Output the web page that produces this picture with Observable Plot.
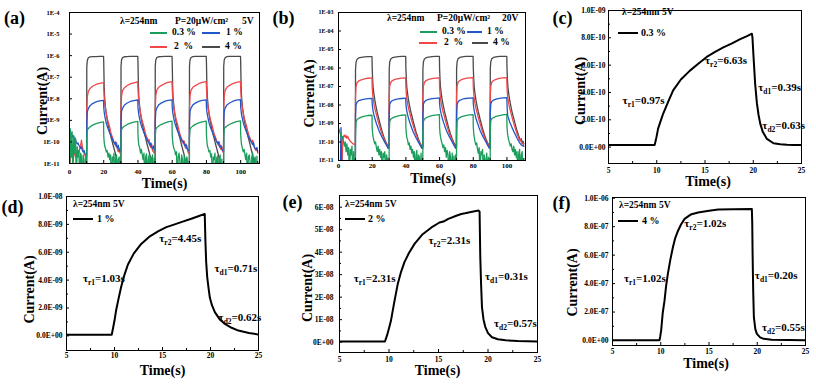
<!DOCTYPE html>
<html><head><meta charset="utf-8">
<script src="https://cdn.jsdelivr.net/npm/d3@7"></script>
<script src="https://cdn.jsdelivr.net/npm/@observablehq/plot@0.6"></script>
<style>
body{margin:0;background:#fff;}
#fig{position:relative;width:816px;height:385px;overflow:hidden;font-family:"Liberation Serif","Times New Roman","DejaVu Serif",serif;font-weight:bold;color:#000;}
#fig svg{position:absolute;font-family:"Liberation Serif","Times New Roman","DejaVu Serif",serif !important;}
#fig svg text{font-family:"Liberation Serif","Times New Roman","DejaVu Serif",serif;}
.lab{position:absolute;white-space:pre;line-height:1;transform:translateY(-50%);}
.ln{position:absolute;}
</style></head><body><div id="fig"></div>
<script>
const tAB = [0,0.5,1,1.5,2,2.5,3,3.5,4,4.5,5,5.5,6,6.5,7,7.5,8,8.5,9,9.5,
10,10.1,10.4,11,12,13.5,15.5,17.5,19.9,20,20.25,20.5,21,21.5,22,22.5,23,23.5,24,24.5,25,25.5,26,26.5,27,27.5,28,28.5,29,29.5,
30,30.1,30.4,31,32,33.5,35.5,37.5,39.9,40,40.25,40.5,41,41.5,42,42.5,43,43.5,44,44.5,45,45.5,46,46.5,47,47.5,48,48.5,49,49.5,
50,50.1,50.4,51,52,53.5,55.5,57.5,59.9,60,60.25,60.5,61,61.5,62,62.5,63,63.5,64,64.5,65,65.5,66,66.5,67,67.5,68,68.5,69,69.5,
70,70.1,70.4,71,72,73.5,75.5,77.5,79.9,80,80.25,80.5,81,81.5,82,82.5,83,83.5,84,84.5,85,85.5,86,86.5,87,87.5,88,88.5,89,89.5,
90,90.1,90.4,91,92,93.5,95.5,97.5,99.9,100,100.25,100.5,101,101.5,102,102.5,103,103.5,104,104.5,105,105.5,106,106.5,107,107.5,108,108.5,109,109.5,
110];

const grayA = [1e-12,1e-12,1e-12,1e-12,1e-12,1e-12,1e-12,1e-12,1e-12,1e-12,1e-12,1e-12,1e-12,1e-12,1e-12,1e-12,1e-12,1e-12,1e-12,1e-12,
1e-12,3e-7,6e-7,8e-7,8.8e-7,9e-7,9.1e-7,9.2e-7,9.2e-7, 5e-7,4e-8,1.2e-8,4e-9,2e-9,1.1e-9,7e-10,4.5e-10,3e-10,2e-10,1.4e-10,1e-10,7e-11,5e-11,3.5e-11,2.5e-11,1.5e-11,1e-12,1e-12,1e-12,1e-12,
1e-12,3.2e-7,6.2e-7,8.1e-7,8.9e-7,9.1e-7,9.2e-7,9.2e-7,9.3e-7, 5e-7,4.2e-8,1.2e-8,4.2e-9,2e-9,1.1e-9,7e-10,4.6e-10,3e-10,2.1e-10,1.5e-10,1e-10,7e-11,5e-11,3.5e-11,2.5e-11,1.5e-11,1e-12,1e-12,1e-12,1e-12,
1e-12,3.2e-7,6.2e-7,8.1e-7,8.9e-7,9.1e-7,9.2e-7,9.3e-7,9.3e-7, 5e-7,4.2e-8,1.2e-8,4.2e-9,2e-9,1.1e-9,7e-10,4.6e-10,3e-10,2.1e-10,1.5e-10,1e-10,7e-11,5e-11,3.5e-11,2.5e-11,1.5e-11,1e-12,1e-12,1e-12,1e-12,
1e-12,3.3e-7,6.3e-7,8.2e-7,9e-7,9.2e-7,9.3e-7,9.3e-7,9.3e-7, 5e-7,4.3e-8,1.3e-8,4.3e-9,2.1e-9,1.1e-9,7e-10,4.6e-10,3.1e-10,2.1e-10,1.5e-10,1e-10,7e-11,5e-11,3.5e-11,2.5e-11,1.5e-11,1e-12,1e-12,1e-12,1e-12,
1e-12,3.3e-7,6.3e-7,8.2e-7,9e-7,9.2e-7,9.3e-7,9.3e-7,9.3e-7, 5e-7,4.3e-8,1.3e-8,4.3e-9,2.1e-9,1.1e-9,7.2e-10,4.7e-10,3.1e-10,2.2e-10,1.5e-10,1.1e-10,7.5e-11,5e-11,3.5e-11,2.5e-11,1.5e-11,1e-12,1e-12,1e-12,1e-12,
1e-12];
const redA = [1e-12,2e-11,3e-11,2e-11,3e-11,2.5e-11,3e-11,2e-11,3e-11,2.5e-11,4e-11,3e-11,5e-11,7e-11,1.2e-10,6e-11,4e-11,3e-11,2.5e-11,2e-11,
2e-11,3e-9,1.2e-8,2.2e-8,3e-8,3.8e-8,4.6e-8,5.2e-8,5.6e-8, 3e-8,1.2e-8,7e-9,3.5e-9,2e-9,1.3e-9,9e-10,6.5e-10,4.8e-10,3e-10,2.2e-10,1.7e-10,1.3e-10,1e-10,8e-11,6.5e-11,9e-11,4.5e-11,3.5e-11,5e-11,3e-11,
3e-11,3.5e-9,1.3e-8,2.4e-8,3.2e-8,4e-8,4.9e-8,5.5e-8,6e-8, 3.2e-8,1.3e-8,7.5e-9,3.7e-9,2.1e-9,1.35e-9,9.5e-10,6.8e-10,5e-10,3.2e-10,2.3e-10,1.8e-10,1.4e-10,1.05e-10,1.3e-10,7e-11,5.5e-11,8e-11,4e-11,3.5e-11,3e-11,
3e-11,3.6e-9,1.35e-8,2.5e-8,3.3e-8,4.1e-8,5e-8,5.7e-8,6.2e-8, 3.3e-8,1.3e-8,7.5e-9,3.8e-9,2.1e-9,1.4e-9,9.5e-10,7e-10,5e-10,3.3e-10,2.4e-10,1.8e-10,1.4e-10,1.1e-10,8.5e-11,1.1e-10,6e-11,5e-11,7e-11,4e-11,3e-11,
3e-11,3.6e-9,1.35e-8,2.5e-8,3.3e-8,4.1e-8,5e-8,5.7e-8,6.2e-8, 3.3e-8,1.3e-8,7.6e-9,3.8e-9,2.2e-9,1.4e-9,9.8e-10,7e-10,5.1e-10,3.3e-10,2.4e-10,1.9e-10,1.5e-10,1.1e-10,9e-11,7e-11,1e-10,5.5e-11,4.5e-11,6e-11,3.5e-11,
3.5e-11,3.7e-9,1.4e-8,2.5e-8,3.4e-8,4.2e-8,5.1e-8,5.8e-8,6.2e-8, 3.3e-8,1.3e-8,7.6e-9,3.8e-9,2.2e-9,1.4e-9,1e-9,7.1e-10,5.2e-10,3.4e-10,2.5e-10,1.9e-10,1.5e-10,1.2e-10,9e-11,1.2e-10,7e-11,5.5e-11,4.5e-11,4e-11,5e-11,
3e-11];
const blueA = [3.5e-10,3e-10,2.5e-10,2.2e-10,1.6e-10,1.8e-10,1.2e-10,1.3e-10,1e-10,8e-11,9e-11,7e-11,6e-11,5e-11,6e-11,4e-11,3.5e-11,4e-11,3e-11,2.5e-11,
2.5e-11,8e-10,2.5e-9,3.5e-9,4.8e-9,6e-9,7.2e-9,8e-9,8.5e-9, 4e-9,2.5e-9,1.8e-9,1.1e-9,7.5e-10,5.5e-10,4.2e-10,3.3e-10,2.6e-10,2.1e-10,1.7e-10,1.4e-10,1.15e-10,9.5e-11,8e-11,1e-10,6e-11,5.5e-11,7e-11,4.2e-11,3.8e-11,
3.8e-11,8.5e-10,2.6e-9,3.6e-9,5e-9,6.2e-9,7.5e-9,8.3e-9,8.8e-9, 4.1e-9,2.6e-9,1.85e-9,1.15e-9,7.7e-10,5.6e-10,4.3e-10,3.4e-10,2.7e-10,2.2e-10,1.75e-10,1.45e-10,1.2e-10,1e-10,8.5e-11,7e-11,9e-11,5.5e-11,5e-11,6.5e-11,4e-11,
4e-11,8.5e-10,2.6e-9,3.7e-9,5.1e-9,6.3e-9,7.6e-9,8.4e-9,9e-9, 4.2e-9,2.6e-9,1.9e-9,1.15e-9,7.8e-10,5.7e-10,4.4e-10,3.4e-10,2.7e-10,2.2e-10,1.8e-10,1.45e-10,1.2e-10,1e-10,1.1e-10,7.5e-11,6.5e-11,8e-11,5e-11,4.5e-11,4e-11,
4e-11,8.5e-10,2.6e-9,3.7e-9,5.1e-9,6.3e-9,7.6e-9,8.5e-9,9e-9, 4.2e-9,2.6e-9,1.9e-9,1.2e-9,7.8e-10,5.7e-10,4.4e-10,3.5e-10,2.8e-10,2.2e-10,1.8e-10,1.5e-10,1.2e-10,1e-10,8.5e-11,1e-10,6.5e-11,5.5e-11,7e-11,4.5e-11,4e-11,
4e-11,9e-10,2.7e-9,3.8e-9,5.2e-9,6.4e-9,7.7e-9,8.6e-9,9.2e-9, 4.3e-9,2.7e-9,1.9e-9,1.2e-9,8e-10,5.8e-10,4.5e-10,3.5e-10,2.8e-10,2.3e-10,1.8e-10,1.5e-10,1.25e-10,1.05e-10,9e-11,7.5e-11,9.5e-11,6e-11,5e-11,4.5e-11,5.5e-11,
3.5e-11];
const greenA = [1e-12,4e-10,2e-11,3e-10,1e-12,2e-10,3e-11,1.5e-10,1e-12,6e-11,2e-11,4e-11,1e-12,3e-11,2e-11,1e-12,2.5e-11,1.5e-11,1e-12,2e-11,
1e-12,1.5e-10,3.5e-10,4.2e-10,5e-10,6e-10,7e-10,7.8e-10,8.5e-10, 2e-10,1e-10,7e-11,5e-11,3.5e-11,4e-11,2e-11,3e-11,1.5e-11,2.5e-11,1e-12,2e-11,1.2e-11,3e-11,1e-12,1.8e-11,2.5e-11,1e-12,1.5e-11,2e-11,1e-12,
1e-12,1.6e-10,3.8e-10,4.5e-10,5.3e-10,6.3e-10,7.4e-10,8.3e-10,9e-10, 2.2e-10,1.1e-10,7e-11,5.5e-11,3e-11,4.5e-11,2.5e-11,1.5e-11,3e-11,1e-12,2e-11,2.8e-11,1e-12,1.5e-11,2.5e-11,1e-12,2e-11,1.2e-11,2.5e-11,1e-12,1.8e-11,
1e-12,1.7e-10,3.9e-10,4.6e-10,5.4e-10,6.4e-10,7.5e-10,8.5e-10,9.2e-10, 2.2e-10,1.1e-10,7.5e-11,5e-11,4e-11,2.5e-11,3.5e-11,1e-12,2e-11,3e-11,1.2e-11,1e-12,2.5e-11,1.5e-11,1e-12,2.2e-11,1.5e-11,1e-12,2e-11,1.3e-11,1e-12,
1e-12,1.7e-10,3.9e-10,4.6e-10,5.4e-10,6.5e-10,7.6e-10,8.6e-10,9.3e-10, 2.3e-10,1.1e-10,7e-11,5e-11,3.5e-11,4e-11,2e-11,2.8e-11,1e-12,2e-11,1.5e-11,3e-11,1e-12,1.8e-11,2.2e-11,1e-12,1.5e-11,2.5e-11,1e-12,1.6e-11,1e-12,
1e-12,1.8e-10,4e-10,4.7e-10,5.5e-10,6.6e-10,7.7e-10,8.8e-10,9.5e-10, 2.3e-10,1.2e-10,7.5e-11,5e-11,3.5e-11,4.5e-11,2.5e-11,1.5e-11,3e-11,1e-12,2e-11,2.5e-11,1.2e-11,1e-12,2e-11,3e-11,1e-12,1.5e-11,2e-11,1e-12,2.2e-11,
1e-12];

const grayB = [1e-12,1e-12,1e-12,1e-12,1e-12,1e-12,1e-12,1e-12,1e-12,1e-12,1e-12,1e-12,1e-12,1e-12,1e-12,1e-12,1e-12,1e-12,1e-12,1e-12,
1e-12,8e-7,2e-6,3e-6,3.5e-6,3.8e-6,4e-6,4.1e-6,4.1e-6, 1e-6,2.5e-7,1e-7,4e-8,2e-8,1.1e-8,6.5e-9,4e-9,2.6e-9,1.7e-9,1.1e-9,7.5e-10,5e-10,3.5e-10,2.5e-10,1.8e-10,1.35e-10,1.05e-10,8.5e-11,7e-11,6e-11,
6e-11,8.5e-7,2.1e-6,3.1e-6,3.6e-6,3.9e-6,4.1e-6,4.2e-6,4.2e-6, 1e-6,2.6e-7,1e-7,4.2e-8,2e-8,1.1e-8,6.6e-9,4.1e-9,2.7e-9,1.75e-9,1.15e-9,7.8e-10,5.2e-10,3.6e-10,2.6e-10,1.9e-10,1.4e-10,1.1e-10,8.5e-11,7e-11,6e-11,
6e-11,8.5e-7,2.1e-6,3.1e-6,3.6e-6,3.9e-6,4.1e-6,4.2e-6,4.2e-6, 1e-6,2.6e-7,1e-7,4.2e-8,2e-8,1.15e-8,6.8e-9,4.2e-9,2.7e-9,1.8e-9,1.2e-9,8e-10,5.4e-10,3.8e-10,2.7e-10,2e-10,1.5e-10,1.15e-10,9e-11,7.5e-11,6e-11,
6e-11,9e-7,2.2e-6,3.2e-6,3.7e-6,4e-6,4.2e-6,4.3e-6,4.3e-6, 1.1e-6,2.7e-7,1.05e-7,4.3e-8,2.1e-8,1.15e-8,6.8e-9,4.2e-9,2.8e-9,1.8e-9,1.2e-9,8e-10,5.4e-10,3.8e-10,2.7e-10,2e-10,1.5e-10,1.15e-10,9e-11,7.5e-11,6.5e-11,
6.5e-11,9e-7,2.2e-6,3.2e-6,3.7e-6,4e-6,4.2e-6,4.3e-6,4.3e-6, 1.1e-6,2.7e-7,1.05e-7,4.3e-8,2.1e-8,1.2e-8,7e-9,4.3e-9,2.8e-9,1.9e-9,1.25e-9,8.5e-10,5.8e-10,4e-10,2.9e-10,2.1e-10,1.6e-10,1.2e-10,1.5e-10,9e-11,1.1e-10,
8e-11];
const redB = [1e-12,1e-12,1e-12,1e-12,1e-12,1.5e-10,2e-10,2.4e-10,1.8e-10,2.2e-10,1.6e-10,2e-10,1.5e-10,1.3e-10,1.1e-10,1e-10,9e-11,8e-11,8e-11,7e-11,
7e-11,3e-8,1e-7,1.6e-7,2e-7,2.3e-7,2.6e-7,2.8e-7,2.9e-7, 1e-7,4e-8,2.5e-8,1.2e-8,7e-9,4.5e-9,3e-9,2e-9,1.35e-9,9.5e-10,6.5e-10,4.6e-10,3.4e-10,2.5e-10,1.9e-10,1.45e-10,1.15e-10,9e-11,7.5e-11,6e-11,5e-11,
5e-11,3.2e-8,1.05e-7,1.65e-7,2.1e-7,2.4e-7,2.7e-7,2.85e-7,2.9e-7, 1e-7,4e-8,2.5e-8,1.2e-8,7e-9,4.6e-9,3.1e-9,2.1e-9,1.4e-9,1e-9,6.8e-10,4.8e-10,3.5e-10,2.6e-10,2e-10,1.5e-10,1.2e-10,9.5e-11,7.5e-11,6e-11,5e-11,
5e-11,3.2e-8,1.05e-7,1.65e-7,2.1e-7,2.4e-7,2.7e-7,2.85e-7,2.9e-7, 1e-7,4e-8,2.5e-8,1.2e-8,7e-9,4.6e-9,3.1e-9,2.1e-9,1.4e-9,1e-9,6.8e-10,4.8e-10,3.5e-10,2.6e-10,2e-10,1.5e-10,1.2e-10,9.5e-11,7.5e-11,6e-11,5e-11,
5e-11,3.3e-8,1.1e-7,1.7e-7,2.1e-7,2.45e-7,2.75e-7,2.9e-7,3e-7, 1.05e-7,4.2e-8,2.6e-8,1.25e-8,7.2e-9,4.7e-9,3.2e-9,2.1e-9,1.45e-9,1e-9,7e-10,5e-10,3.6e-10,2.7e-10,2e-10,1.5e-10,1.2e-10,9.5e-11,8e-11,6.5e-11,5e-11,
5e-11,3.3e-8,1.1e-7,1.7e-7,2.1e-7,2.45e-7,2.75e-7,2.9e-7,3e-7, 1.05e-7,4.2e-8,2.6e-8,1.25e-8,7.2e-9,4.8e-9,3.3e-9,2.2e-9,1.5e-9,1.05e-9,7.2e-10,5.2e-10,3.8e-10,2.8e-10,2.1e-10,1.6e-10,1.25e-10,1.4e-10,1e-10,8e-11,9e-11,
6e-11];
const blueB = [1e-12,1e-12,1e-12,6e-10,1e-12,1e-12,1e-12,1e-12,1e-12,1e-12,1e-12,1e-12,1e-12,1e-12,1e-12,1e-12,1e-12,1e-12,1e-12,1e-12,
1e-12,3e-9,1e-8,1.4e-8,1.7e-8,1.9e-8,2.1e-8,2.2e-8,2.3e-8, 1.2e-8,7e-9,5e-9,3e-9,2e-9,1.4e-9,1e-9,7.5e-10,5.5e-10,4.2e-10,3.3e-10,2.6e-10,2.1e-10,1.7e-10,1.4e-10,1.15e-10,9.5e-11,8e-11,6.5e-11,5.5e-11,4.5e-11,
4.5e-11,3.2e-9,1.05e-8,1.45e-8,1.75e-8,1.95e-8,2.15e-8,2.25e-8,2.35e-8, 1.2e-8,7e-9,5e-9,3e-9,2e-9,1.4e-9,1e-9,7.5e-10,5.5e-10,4.2e-10,3.3e-10,2.6e-10,2.1e-10,1.7e-10,1.4e-10,1.15e-10,9.5e-11,8e-11,6.5e-11,5.5e-11,4.5e-11,
4.5e-11,3.3e-9,1.1e-8,1.5e-8,1.8e-8,2e-8,2.2e-8,2.3e-8,2.4e-8, 1.25e-8,7.2e-9,5.1e-9,3.1e-9,2.05e-9,1.45e-9,1.05e-9,7.8e-10,5.7e-10,4.3e-10,3.4e-10,2.7e-10,2.2e-10,1.75e-10,1.45e-10,1.2e-10,1e-10,8.2e-11,6.8e-11,5.6e-11,4.6e-11,
4.6e-11,3.4e-9,1.1e-8,1.5e-8,1.8e-8,2.05e-8,2.25e-8,2.35e-8,2.45e-8, 1.25e-8,7.2e-9,5.1e-9,3.1e-9,2.05e-9,1.45e-9,1.05e-9,7.8e-10,5.7e-10,4.3e-10,3.4e-10,2.7e-10,2.2e-10,1.75e-10,1.45e-10,1.2e-10,1e-10,8.2e-11,6.8e-11,5.6e-11,4.6e-11,
4.6e-11,3.5e-9,1.15e-8,1.55e-8,1.85e-8,2.1e-8,2.3e-8,2.4e-8,2.5e-8, 1.3e-8,4e-9,2.5e-9,1.8e-9,1.3e-9,1e-9,8e-10,6e-10,4.8e-10,3.8e-10,3e-10,2.5e-10,2e-10,1.6e-10,1.3e-10,1.1e-10,9e-11,8e-11,7e-11,6.5e-11,6e-11,
6e-11];
const greenB = [6e-10,4e-10,3e-10,2e-10,1.5e-10,2e-10,1e-10,6e-11,1e-10,3e-11,8e-11,2e-11,5e-11,1e-12,4e-11,2e-11,6e-11,1e-12,3e-11,1e-12,
1e-12,3e-10,1.2e-9,1.6e-9,1.9e-9,2.2e-9,2.5e-9,2.7e-9,2.8e-9, 6e-10,3e-10,2e-10,1.2e-10,8e-11,1e-10,5e-11,3e-11,6e-11,2e-11,4e-11,1.5e-11,3e-11,1e-12,2.5e-11,1.5e-11,3e-11,1e-12,2e-11,1.2e-11,1e-12,
1e-12,3.2e-10,1.3e-9,1.7e-9,2e-9,2.3e-9,2.6e-9,2.8e-9,2.9e-9, 6e-10,3e-10,1.8e-10,1.3e-10,7e-11,9e-11,4e-11,6e-11,2.5e-11,4e-11,1.5e-11,3e-11,1e-12,2e-11,3.5e-11,1e-12,2e-11,1.5e-11,1e-12,2.5e-11,1e-12,
1e-12,3.3e-10,1.3e-9,1.7e-9,2.05e-9,2.35e-9,2.65e-9,2.85e-9,3e-9, 6.5e-10,3e-10,2e-10,1.2e-10,8e-11,5e-11,7e-11,3e-11,5e-11,1.5e-11,3.5e-11,2e-11,1e-12,3e-11,1.5e-11,1e-12,2.5e-11,1e-12,1.8e-11,1e-12,2e-11,
1e-12,3.3e-10,1.35e-9,1.75e-9,2.1e-9,2.4e-9,2.7e-9,2.9e-9,3e-9, 6.5e-10,3.2e-10,2e-10,1.1e-10,7e-11,9e-11,4e-11,2.5e-11,5e-11,1e-12,3e-11,2e-11,4e-11,1e-12,2e-11,1.2e-11,1e-12,2.5e-11,1e-12,1.5e-11,1e-12,
1e-12,3.4e-10,1.4e-9,1.8e-9,2.1e-9,2.4e-9,2.7e-9,2.9e-9,3.1e-9, 7e-10,3.5e-10,2.2e-10,1.3e-10,9e-11,6e-11,8e-11,4e-11,3e-11,6e-11,2e-11,4e-11,1.5e-11,3e-11,1e-12,2.5e-11,4e-11,1e-12,2e-11,3e-11,1e-12,
1e-12];

const tC = [5,9.78,9.85,9.97,10.14,10.4,10.66,11.2,11.7,12.5,13.44,14.3,15.18,16.0,16.9,17.8,18.65,19.3,19.86,19.92,20.03,20.2,20.38,20.55,20.73,21.0,21.42,22.1,22.8,23.5,24.2,25];
const vC = [1.5e-11,1.5e-11,3.5e-11,7.3e-11,1.35e-10,1.9e-10,2.44e-10,3.35e-10,4.15e-10,4.95e-10,5.6e-10,6.1e-10,6.6e-10,6.95e-10,7.3e-10,7.6e-10,7.9e-10,8.1e-10,8.3e-10,8.0e-10,6.6e-10,4.6e-10,3.2e-10,2.35e-10,1.7e-10,1.1e-10,6e-11,2.8e-11,2.1e-11,1.7e-11,1.6e-11,1.5e-11];
const tD = [5,9.71,9.8,10.0,10.16,10.4,10.69,11.0,11.39,12.0,12.78,13.6,14.53,15.4,16.27,17.1,18.0,18.8,19.4,19.47,19.55,19.66,19.8,19.93,20.15,20.45,21.0,21.5,22.2,22.9,24.0,25];
const vD = [8e-11,8e-11,3.8e-10,1.1e-9,1.8e-9,2.6e-9,3.5e-9,4.3e-9,5.1e-9,5.9e-9,6.6e-9,7.1e-9,7.5e-9,7.8e-9,8.0e-9,8.2e-9,8.4e-9,8.6e-9,8.75e-9,6.8e-9,5.3e-9,4.2e-9,3.4e-9,2.75e-9,2.2e-9,1.7e-9,1.15e-9,8.6e-10,5.8e-10,3.8e-10,2e-10,1e-10];
const tE = [5,9.59,9.8,10.0,10.2,10.5,10.89,11.2,11.56,12.0,12.58,13.4,14.29,15.1,15.5,15.99,16.8,17.3,17.68,18.4,19.05,19.15,19.22,19.3,19.39,19.55,19.73,20.0,20.4,21.0,21.77,23.0,25];
const vE = [3e-10,3e-10,3e-9,6.2e-9,9.6e-9,1.7e-8,2.6e-8,3.1e-8,3.56e-8,3.95e-8,4.37e-8,4.8e-8,5.1e-8,5.32e-8,5.36e-8,5.48e-8,5.62e-8,5.7e-8,5.73e-8,5.8e-8,5.85e-8,5.8e-8,3.8e-8,2.6e-8,1.56e-8,1e-8,6.7e-9,4e-9,2.2e-9,1.3e-9,8e-10,5e-10,3e-10];
const tF = [5,9.87,9.95,10.04,10.2,10.39,10.55,10.74,11.0,11.26,11.5,11.78,12.1,12.47,13.1,13.87,15.0,15.96,17.5,19.44,19.48,19.52,19.58,19.65,19.8,19.96,20.3,20.66,21.5,25];
const vF = [2e-9,2e-9,3e-8,7e-8,1.9e-7,2.8e-7,3.8e-7,4.7e-7,5.7e-7,6.55e-7,7.2e-7,7.7e-7,8.15e-7,8.55e-7,8.85e-7,9.0e-7,9.12e-7,9.2e-7,9.23e-7,9.25e-7,8.3e-7,6.0e-7,3.5e-7,1.64e-7,8e-8,4.7e-8,2.2e-8,1.2e-8,5e-9,2e-9];

const xTicksAB = [0,20,40,60,80,100], xMinorAB = [10,30,50,70,90,110];
const xLabelsAB = ["0","20","40","60","80","100"];
const xTicksCF = [5,10,15,20,25], xMinorCF = [7.5,12.5,17.5,22.5];
const xLabelsCF = ["5","10","15","20","25"];
const yTicksA = [1e-11,1e-10,1e-9,1e-8,1e-7,1e-6,1e-5,1e-4];
const yLabelsA = ["1E-11","1E-10","1E-9","1E-8","1E-7","1E-6","1E-5","1E-4"];
const yTicksB = [1e-11,1e-10,1e-9,1e-8,1e-7,1e-6,1e-5,1e-4,1e-3];
const yLabelsB = ["1E-11","1E-10","1E-09","1E-08","1E-07","1E-06","1E-05","1E-04","1E-03"];
const yTicksC = [0,2e-10,4e-10,6e-10,8e-10,1e-9], yMinorC = [1e-10,3e-10,5e-10,7e-10,9e-10];
const yLabelsC = ["0.0E+00","2.0E-10","4.0E-10","6.0E-10","8.0E-10","1.0E-09"];
const yTicksD = [0,2e-9,4e-9,6e-9,8e-9,1e-8], yMinorD = [1e-9,3e-9,5e-9,7e-9,9e-9];
const yLabelsD = ["0.0E+00","2.0E-09","4.0E-09","6.0E-09","8.0E-09","1.0E-08"];
const yTicksE = [0,1e-8,2e-8,3e-8,4e-8,5e-8,6e-8], yMinorE = [5e-9,1.5e-8,2.5e-8,3.5e-8,4.5e-8,5.5e-8];
const yLabelsE = ["0E+00","1E-08","2E-08","3E-08","4E-08","5E-08","6E-08"];
const yTicksF = [0,2e-7,4e-7,6e-7,8e-7,1e-6], yMinorF = [1e-7,3e-7,5e-7,7e-7,9e-7];
const yLabelsF = ["0.0E+00","2.0E-07","4.0E-07","6.0E-07","8.0E-07","1.0E-06"];

const seriesNames = ["0.3 %","1 %","2  %","4 %"];
const seriesColors = {gray:"#4a4a4a", red:"#f0474a", blue:"#2157c8", green:"#1b9d5b"};

const annC = [{t:6.46,v:3.4e-10,s:"τr1=0.97s"},{t:15.0,v:6.34e-10,s:"τr2=6.63s"},{t:20.52,v:4.36e-10,s:"τd1=0.39s"},{t:20.94,v:1.59e-10,s:"τd2=0.63s"}];
const annD = [{t:6.71,v:4.09e-9,s:"τr1=1.03s"},{t:14.66,v:7.02e-9,s:"τr2=4.45s"},{t:20.42,v:4.81e-9,s:"τd1=0.71s"},{t:20.84,v:1.31e-9,s:"τd2=0.62s"}];
const annE = [{t:6.43,v:2.83e-8,s:"τr1=2.31s"},{t:13.98,v:4.52e-8,s:"τr2=2.31s"},{t:19.69,v:2.92e-8,s:"τd1=0.31s"},{t:20.61,v:0.83e-8,s:"τd2=0.57s"}];
const annF = [{t:6.18,v:4.36e-7,s:"τr1=1.02s"},{t:12.44,v:8.22e-7,s:"τr2=1.02s"},{t:19.75,v:4.57e-7,s:"τd1=0.20s"},{t:20.48,v:0.91e-7,s:"τd2=0.55s"}];

const FONT = '"Liberation Serif","Times New Roman","DejaVu Serif",serif';
const fig = document.getElementById("fig");
const NS = "http://www.w3.org/2000/svg";

function panel(c) {
  const fw = c.w - c.mL - c.mR, fh = c.h - c.mT - c.mB;
  const xm = new Map(c.xt.map((d,i)=>[d,c.xl[i]]));
  const ym = new Map(c.yt.map((d,i)=>[d,c.yl[i]]));
  const marks = [];
  for (const s of c.lines) marks.push(Plot.line(s.t, {x: s.t, y: s.v, stroke: s.color, strokeWidth: s.sw, clip: true}));
  marks.push(
    Plot.frame({stroke:"#000", strokeWidth:1}),
    Plot.tickX(c.xt, {x: d=>d, insetTop: fh-3, stroke:"#000"}),
    Plot.tickX(c.xmn, {x: d=>d, insetTop: fh-2, stroke:"#000"}),
    Plot.tickY(c.yt, {y: d=>d, insetRight: fw-3, stroke:"#000"}),
    Plot.tickY(c.ymn || [], {y: d=>d, insetRight: fw-2, stroke:"#000"}),
    Plot.axisX({ticks: c.xt, tickSize: 0, tickPadding: c.xp, tickFormat: d=>xm.get(d), fontSize: c.xfs, fontFamily: FONT, label: null}),
    Plot.axisY({ticks: c.yt, tickSize: 0, tickPadding: c.yp, tickFormat: d=>ym.get(d), fontSize: c.yfs, fontFamily: FONT, label: null}),
    Plot.text(["Current(A)"], {frameAnchor:"left", dx:c.cy[0], dy:c.cy[1], rotate:-90, fontSize:14, fontFamily: FONT, fontWeight:"bold", textAnchor:"middle", lineAnchor:"middle"}),
    Plot.text(["Time(s)"], {frameAnchor:"bottom", dx:c.tx[0], dy:c.tx[1], fontSize:14, fontFamily: FONT, fontWeight:"bold", textAnchor:"middle", lineAnchor:"middle"}),
    Plot.text([c.name], {frameAnchor:"top-left", dx:c.nm[0], dy:c.nm[1], fontSize:18, fontFamily: FONT, fontWeight:"bold", textAnchor:"middle", lineAnchor:"middle"})
  );
  if (c.ann) marks.push(Plot.text(c.ann, {x:"t", y:"v", text:"s", fontSize:11, fontFamily: FONT, fontWeight:"bold", textAnchor:"start", lineAnchor:"middle"}));
  const svg = Plot.plot({
    width: c.w, height: c.h, marginLeft: c.mL, marginRight: c.mR, marginTop: c.mT, marginBottom: c.mB,
    style: {fontFamily: FONT, fontWeight:"bold", background:"transparent", overflow:"visible", color:"#000"},
    x: {domain: c.xd},
    y: {type: c.yType, domain: c.yd},
    marks
  });
  svg.style.left = c.left + "px"; svg.style.top = c.top + "px";
  svg.querySelectorAll("text").forEach(el => {
    el.style.fontFamily = FONT; el.style.fontWeight = "bold";
    const m = /^τ([rd]\d)(.*)$/.exec(el.textContent);
    if (!m) return;
    el.textContent = "τ";
    const s1 = document.createElementNS(NS, "tspan"); s1.setAttribute("font-size","7.5"); s1.setAttribute("dy","3"); s1.textContent = m[1];
    const s2 = document.createElementNS(NS, "tspan"); s2.setAttribute("dy","-3"); s2.textContent = m[2];
    el.append(s1, s2);
  });
  fig.appendChild(svg);
}

const C = seriesColors;
panel({name:"(a)", left:0, top:0, w:270, h:192, mL:69, mR:11, mT:12, mB:29, xd:[0,111], yType:"log", yd:[1e-11,1e-4],
  xt:xTicksAB, xl:xLabelsAB, xmn:xMinorAB, yt:yTicksA, yl:yLabelsA, xp:6, yp:10, xfs:7, yfs:6.5,
  cy:[-27,13], tx:[0,20], nm:[-55,6],
  lines:[{t:tAB,v:grayA,color:C.gray,sw:1.3},{t:tAB,v:redA,color:C.red,sw:1.3},{t:tAB,v:blueA,color:C.blue,sw:1.3},{t:tAB,v:greenA,color:C.green,sw:1.3}]});
panel({name:"(b)", left:270, top:0, w:270, h:192, mL:68, mR:15, mT:12, mB:32, xd:[0,111], yType:"log", yd:[1e-11,1e-3],
  xt:xTicksAB, xl:xLabelsAB, xmn:xMinorAB, yt:yTicksB, yl:yLabelsB, xp:2.5, yp:5, xfs:7, yfs:6,
  cy:[-29,7], tx:[1,18], nm:[-55,6],
  lines:[{t:tAB,v:grayB,color:C.gray,sw:1.3},{t:tAB,v:redB,color:C.red,sw:1.3},{t:tAB,v:blueB,color:C.blue,sw:1.3},{t:tAB,v:greenB,color:C.green,sw:1.3}]});
panel({name:"(c)", left:540, top:0, w:276, h:192, mL:68, mR:15, mT:10, mB:29, xd:[5,25], yType:"linear", yd:[-1.2e-10,1e-9],
  xt:xTicksCF, xl:xLabelsCF, xmn:xMinorCF, yt:yTicksC, yl:yLabelsC, ymn:yMinorC, xp:4.5, yp:3, xfs:7.5, yfs:7.5,
  cy:[-28,4], tx:[3,18], nm:[-46,8], ann:annC,
  lines:[{t:tC,v:vC,color:"#000",sw:2}]});
panel({name:"(d)", left:0, top:190, w:270, h:195, mL:66, mR:12, mT:6, mB:35, xd:[5,25], yType:"linear", yd:[-1.05e-9,1e-8],
  xt:xTicksCF, xl:xLabelsCF, xmn:xMinorCF, yt:yTicksD, yl:yLabelsD, ymn:yMinorD, xp:2.5, yp:4, xfs:7.5, yfs:7.5,
  cy:[-37,16], tx:[0,20], nm:[-54,11], ann:annD,
  lines:[{t:tD,v:vD,color:"#000",sw:2}]});
panel({name:"(e)", left:270, top:190, w:270, h:195, mL:69, mR:3, mT:5, mB:33, xd:[5,25], yType:"linear", yd:[-4.6e-9,6.52e-8],
  xt:xTicksCF, xl:xLabelsCF, xmn:xMinorCF, yt:yTicksE, yl:yLabelsE, ymn:yMinorE, xp:4.5, yp:6, xfs:7.5, yfs:7.5,
  cy:[-32,14], tx:[-1,18], nm:[-47,7], ann:annE,
  lines:[{t:tE,v:vE,color:"#000",sw:2}]});
panel({name:"(f)", left:540, top:190, w:276, h:195, mL:72, mR:11, mT:7, mB:40, xd:[5,25], yType:"linear", yd:[-3.5e-8,1.005e-6],
  xt:xTicksCF, xl:xLabelsCF, xmn:xMinorCF, yt:yTicksF, yl:yLabelsF, ymn:yMinorF, xp:3.5, yp:4, xfs:7.5, yfs:7.5,
  cy:[-40,11], tx:[-3,18], nm:[-51,6], ann:annF,
  lines:[{t:tF,v:vF,color:"#000",sw:2}]});

function txt(x, y, s, size) {
  const d = document.createElement("div"); d.className = "lab";
  d.style.left = x + "px"; d.style.top = y + "px"; d.style.fontSize = size + "px"; d.style.fontFamily = FONT; d.textContent = s;
  fig.appendChild(d);
}
function seg(x1, x2, y, color, th) {
  const d = document.createElement("div"); d.className = "ln";
  d.style.left = x1 + "px"; d.style.top = (y - th/2) + "px"; d.style.width = (x2 - x1) + "px";
  d.style.height = th + "px"; d.style.background = color; fig.appendChild(d);
}
txt(120,22,"λ=254nm",9.5); txt(175,22,"P=20μW/cm²",9.5); txt(242,22,"5V",9.5);
seg(150,167,33,C.green,1.6); txt(172,33,seriesNames[0],9.5); seg(202,220,33,C.blue,1.6); txt(226,33,seriesNames[1],9.5);
seg(150,167,47,C.red,1.6); txt(174,47,seriesNames[2],9.5); seg(202,220,47,C.gray,1.6); txt(225,47,seriesNames[3],9.5);
txt(387,19,"λ=254nm",9.5); txt(437,19,"P=20μW/cm²",9.5); txt(502,19,"20V",9.5);
seg(420,437,32,C.green,1.6); txt(442,32,seriesNames[0],9.5); seg(467,482,32,C.blue,1.6); txt(487,32,seriesNames[1],9.5);
seg(419,437,43,C.red,1.6); txt(444,43,seriesNames[2],9.5); seg(472,488,43,C.gray,1.6); txt(493,43,seriesNames[3],9.5);
txt(622,13,"λ=254nm 5V",9.5); seg(618,638,33,"#000",2.5); txt(641,33,"0.3 %",10);
txt(73,205,"λ=254nm 5V",9.5); seg(73,93,219,"#000",2.5); txt(97,219,"1 %",10);
txt(345,205,"λ=254nm 5V",9.5); seg(345,365,219,"#000",2.5); txt(368,219,"2 %",10);
txt(619,206,"λ=254nm 5V",9.5); seg(618,638,221,"#000",2.5); txt(642,221,"4 %",10);
</script></body></html>
